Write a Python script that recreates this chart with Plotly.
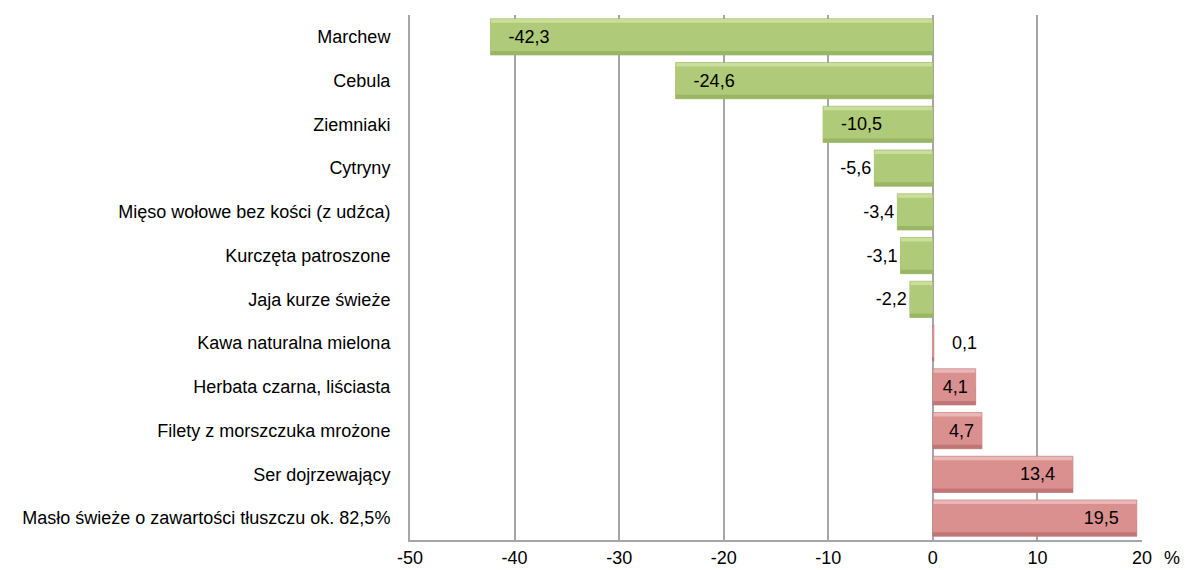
import plotly.graph_objects as go

categories = [
    "Marchew",
    "Cebula",
    "Ziemniaki",
    "Cytryny",
    "Mięso wołowe bez kości (z udźca)",
    "Kurczęta patroszone",
    "Jaja kurze świeże",
    "Kawa naturalna mielona",
    "Herbata czarna, liściasta",
    "Filety z morszczuka mrożone",
    "Ser dojrzewający",
    "Masło świeże o zawartości tłuszczu ok. 82,5%",
]
values = [-42.3, -24.6, -10.5, -5.6, -3.4, -3.1, -2.2, 0.1, 4.1, 4.7, 13.4, 19.5]
x_ticks = [-50, -40, -30, -20, -10, 0, 10, 20]

FONT = "Liberation Sans, Arial, sans-serif"
NB = "\u00a0"

# label placement style (Excel-like: inside end for long bars, outside for short ones)
positions = []
texts = []
for v in values:
    s = f"{v:.1f}".replace(".", ",")
    inside = (v < 0 and v <= -10) or (v > 0 and v >= 4)
    if inside:
        pad = NB * 3 if abs(v) >= 10 else NB
        s = pad + s if v < 0 else s + pad
        positions.append("inside")
    else:
        if v > 0:
            s = NB * 3 + s
        positions.append("outside")
    texts.append(s)

neg = [v < 0 for v in values]
light = ["#c9df9a" if n else "#ebb6b6" for n in neg]
dark = ["#99b665" if n else "#c07676" for n in neg]
mid = ["#afca78" if n else "#db9090" for n in neg]
edge = ["#93b05c" if n else "#b96e6e" for n in neg]

BW = 0.83     # full bar thickness (category units)
BEV = 0.09    # bevel thickness

fig = go.Figure()
common = dict(y=categories, x=values, orientation="h", hoverinfo="skip", showlegend=False)
# bevel layers: light top, dark bottom, flat centre
fig.add_trace(go.Bar(**common, width=BW, offset=-BW / 2, marker=dict(color=light, line=dict(color=edge, width=0.6))))
fig.add_trace(go.Bar(**common, width=BW / 2, offset=-BW / 2, marker=dict(color=dark, line=dict(width=0))))
fig.add_trace(go.Bar(**common, width=BW - 2 * BEV, offset=-BW / 2 + BEV, marker=dict(color=mid, line=dict(width=0))))
# transparent top layer carrying the labels
fig.add_trace(go.Bar(
    **common,
    width=BW, offset=-BW / 2,
    marker=dict(color="rgba(0,0,0,0)", line=dict(width=0)),
    text=texts,
    textposition=positions,
    insidetextanchor="end",
    textangle=0,
    constraintext="none",
    textfont=dict(family=FONT, size=18, color="#000000"),
    outsidetextfont=dict(family=FONT, size=18, color="#000000"),
    insidetextfont=dict(family=FONT, size=18, color="#000000"),
    cliponaxis=False,
))

fig.update_layout(
    width=1185,
    height=570,
    margin=dict(l=410, r=43, t=15, b=30),
    plot_bgcolor="white",
    paper_bgcolor="white",
    showlegend=False,
    barmode="overlay",
    font=dict(family=FONT, size=18, color="#000000"),
)
fig.update_xaxes(
    range=[-50, 20],
    tickvals=x_ticks,
    ticktext=[str(t) for t in x_ticks],
    showgrid=True,
    gridcolor="#a6a6a6",
    gridwidth=1.5,
    zeroline=True,
    zerolinecolor="#a6a6a6",
    zerolinewidth=2,
    showline=True,
    linecolor="#a6a6a6",
    linewidth=2,
    ticks="",
    automargin=False,
    tickfont=dict(family=FONT, size=18),
)
fig.update_yaxes(
    categoryorder="array",
    categoryarray=categories[::-1],
    showline=True,
    linecolor="#a6a6a6",
    linewidth=2,
    showgrid=False,
    ticks="",
    automargin=False,
    ticklabelstandoff=14,
    tickfont=dict(family=FONT, size=18),
)
fig.add_annotation(
    text="%", xref="paper", yref="paper", x=1.0, y=0,
    xanchor="center", yanchor="top",
    xshift=30, yshift=-6, showarrow=False,
    font=dict(family=FONT, size=18),
)

fig.write_html(
    "out.html",
    config={"displayModeBar": False},
    post_script="document.body.style.margin='0';document.body.style.overflow='hidden';",
)
